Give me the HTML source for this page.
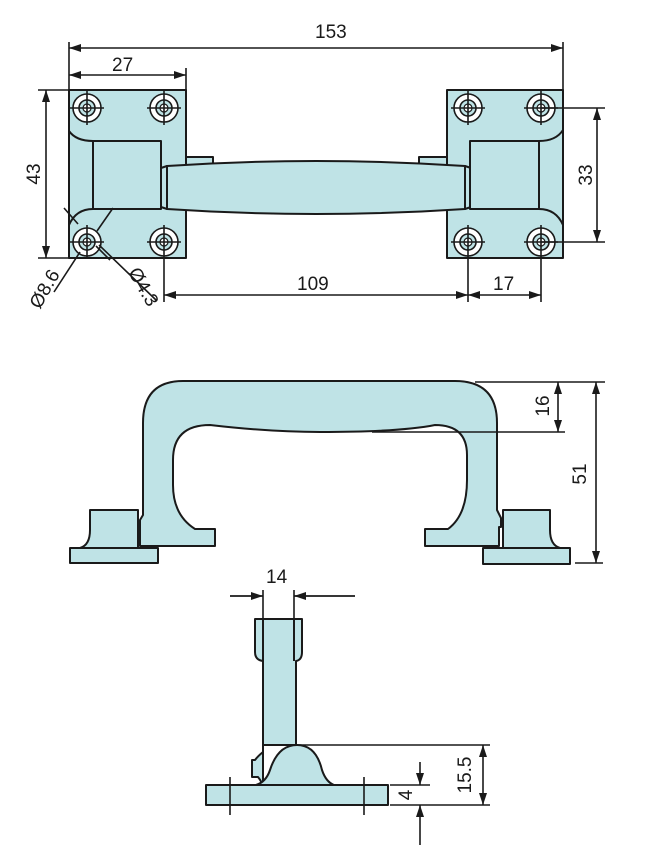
<!DOCTYPE html>
<html><head><meta charset="utf-8"><style>
html,body{margin:0;padding:0;background:#fff;}
svg{display:block;}
text{font-family:"Liberation Sans",sans-serif;font-size:19px;fill:#1a1a1a;}
</style></head><body>
<svg width="655" height="867" viewBox="0 0 655 867" xmlns="http://www.w3.org/2000/svg">
<defs>
<marker id="a" viewBox="0 0 12 8" refX="12" refY="4" markerWidth="12" markerHeight="8" orient="auto-start-reverse" markerUnits="userSpaceOnUse"><path d="M0,0 L12,4 L0,8 z" fill="#1a1a1a"/></marker>
<g id="hole"><circle r="14" fill="#fff" stroke="#1a1a1a" stroke-width="1.6"/><circle r="8" fill="#bfe3e6" stroke="#1a1a1a" stroke-width="1.6"/><circle r="4" fill="#fff" stroke="#1a1a1a" stroke-width="1.2"/><path d="M-17,0H17M0,-17V17" stroke="#1a1a1a" stroke-width="1.6"/></g>
</defs>
<g fill="#bfe3e6" stroke="#1a1a1a" stroke-width="2" stroke-linejoin="round">
<!-- top view -->
<rect x="161" y="157" width="52" height="12"/>
<rect x="419" y="157" width="28" height="12"/>
<rect x="69" y="90" width="117" height="168"/>
<rect x="447" y="90" width="116" height="168"/>
<path d="M161,168 L167,166 L167,209 L161,207 Z"/>
<path d="M471,168 L465,166 L465,209 L471,207 Z"/>
<path d="M167,166 Q316,156 465,166 L465,209 Q316,219 167,209 Z"/>
<rect x="93" y="141" width="68" height="68"/>
<rect x="470" y="141" width="69" height="68"/>
<path d="M69,131 Q76,141 93,141 M93,209 Q76,209 69,225 M563,130 Q556,141 539,141 M539,209 Q556,209 563,225" fill="none"/>
<!-- front view -->
<path d="M183,381 H455 Q497,381 497,423 V510 L501,518 V527 L499,527 V546 H425 V529 H448 Q467,515 467,480 V455 Q467,425 435,425 Q400,432 320,432 Q270,432 210,425 Q173,425 173,460 V485 Q173,515 195,529 H215 V546 H140 V520 L143,515 V423 Q143,381 183,381 Z"/>
<path d="M90,510 H138 V548 H80 Q90,545 90,530 Z"/>
<rect x="70" y="548" width="88" height="15"/>
<path d="M503,510 H550 V530 Q550,545 560,548 H503 Z"/>
<rect x="483" y="548" width="87" height="16"/>
<!-- side view -->
<path d="M255,619 H302 V652 Q302,660 296,661 V745 H263 V661 Q255,660 255,652 Z"/>
<path d="M263,661 V619 M294,661 V619" fill="none"/>
<path d="M263,745 V752 Q258,756 255,760 L252,760 V777 L258,777 Q262,782 262,785 H263 Z"/>
<path d="M256,785 Q266,782 270,770 Q278,745 297,745 Q316,745 322,770 Q326,782 334,785 Z"/>
<rect x="206" y="785" width="182" height="20"/>
</g>
<g transform="translate(87,108)"><use href="#hole"/></g>
<g transform="translate(164,108)"><use href="#hole"/></g>
<g transform="translate(87,242)"><use href="#hole"/></g>
<g transform="translate(164,242)"><use href="#hole"/></g>
<g transform="translate(468,108)"><use href="#hole"/></g>
<g transform="translate(541,108)"><use href="#hole"/></g>
<g transform="translate(468,242)"><use href="#hole"/></g>
<g transform="translate(541,242)"><use href="#hole"/></g>
<g stroke="#1a1a1a" stroke-width="1.6" fill="none">
<!-- top view dims -->
<path d="M69,42V90 M563,42V90 M186,68V90 M38,90H69 M38,258H69 M541,108H605 M541,242H605 M164,258V302 M468,258V302 M541,258V302"/>
<path d="M69,48H563" marker-start="url(#a)" marker-end="url(#a)"/>
<path d="M69,75H186" marker-start="url(#a)" marker-end="url(#a)"/>
<path d="M46,90V258" marker-start="url(#a)" marker-end="url(#a)"/>
<path d="M597,108V242" marker-start="url(#a)" marker-end="url(#a)"/>
<path d="M164,295H468" marker-start="url(#a)" marker-end="url(#a)"/>
<path d="M468,295H541" marker-start="url(#a)" marker-end="url(#a)"/>
<path d="M64,208L78,224 M110,260L96,246 M54,292L80,252 M156,300L99,245 M113,208L97,231"/>
<!-- front dims -->
<path d="M475,382H605 M372,432H565 M575,563H603"/>
<path d="M558,382V432" marker-start="url(#a)" marker-end="url(#a)"/>
<path d="M596,382V563" marker-start="url(#a)" marker-end="url(#a)"/>
<!-- side dims -->
<path d="M263,590V619 M294,590V619 M230,596H263 M294,596H355 M296,745H490 M390,805H490 M390,785H430 M230,777V815 M364,777V815"/>
<path d="M230,596H263" marker-end="url(#a)"/>
<path d="M355,596H294" marker-end="url(#a)"/>
<path d="M483,745V805" marker-start="url(#a)" marker-end="url(#a)"/>
<path d="M420,762V785" marker-end="url(#a)"/>
<path d="M420,845V805" marker-end="url(#a)"/>
</g>
<text x="315" y="38">153</text>
<text x="112" y="71">27</text>
<text x="297" y="290">109</text>
<text x="493" y="290">17</text>
<text transform="translate(40,174) rotate(-90)" text-anchor="middle">43</text>
<text transform="translate(592,175) rotate(-90)" text-anchor="middle">33</text>
<text transform="translate(50,292) rotate(-60)" text-anchor="middle">Ø8.6</text>
<text transform="translate(138,290) rotate(60)" text-anchor="middle">Ø4.3</text>
<text transform="translate(549,406) rotate(-90)" text-anchor="middle">16</text>
<text transform="translate(586,474) rotate(-90)" text-anchor="middle">51</text>
<text x="266" y="583">14</text>
<text transform="translate(471,775) rotate(-90)" text-anchor="middle">15.5</text>
<text transform="translate(412,795) rotate(-90)" text-anchor="middle">4</text>
</svg>
</body></html>
